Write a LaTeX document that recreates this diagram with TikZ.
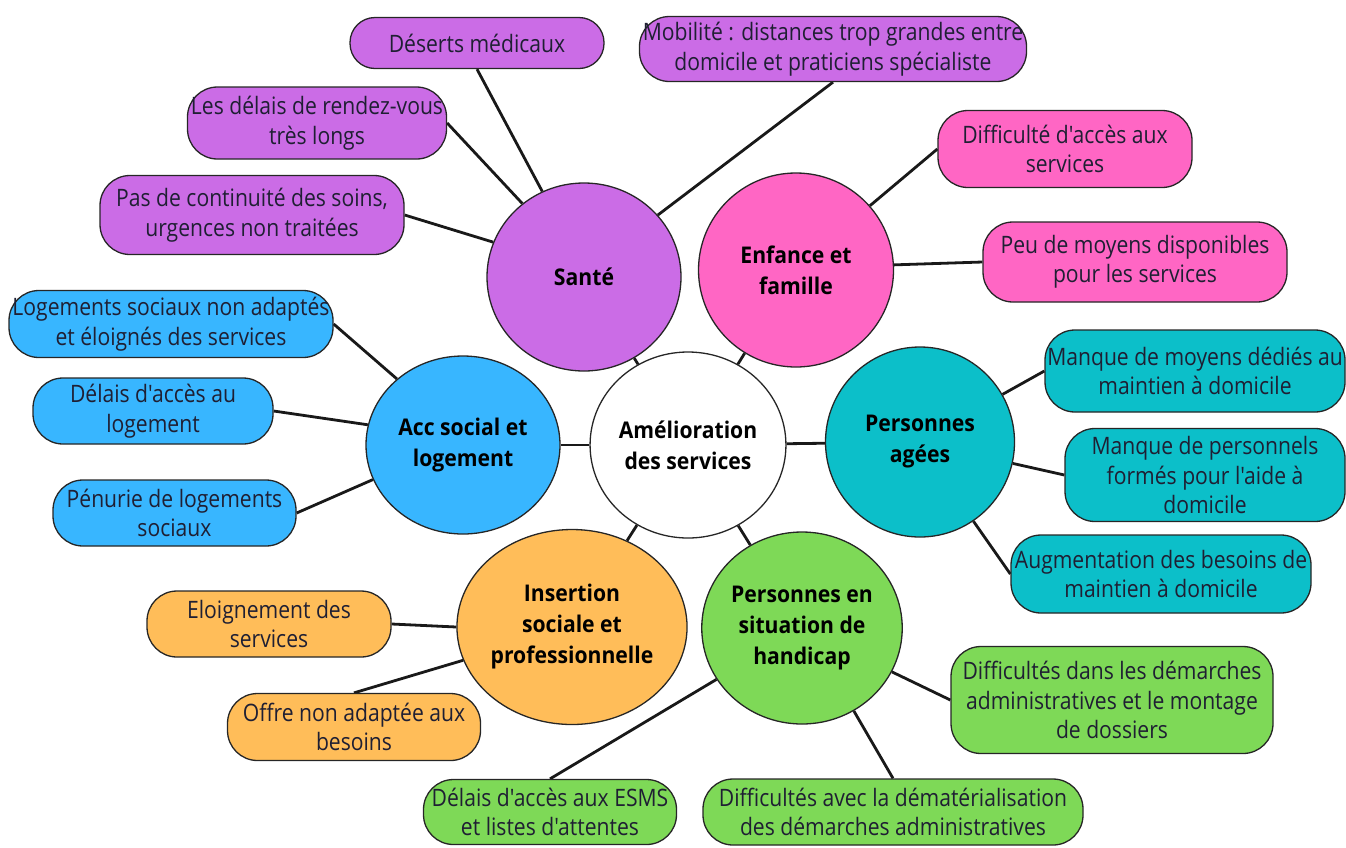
\documentclass[tikz,border=0pt]{standalone}
\usepackage{fontspec}
\usetikzlibrary{shapes.geometric,backgrounds}
\newfontfamily\leafface{Open Sans}[FakeStretch=0.88]
\newfontfamily\hubface{Open Sans}[FakeStretch=0.92,UprightFont=* Bold]
\definecolor{cpurple}{HTML}{CB6CE6}
\definecolor{cpink}{HTML}{FF66C4}
\definecolor{cteal}{HTML}{0CBFC9}
\definecolor{cgreen}{HTML}{7ED957}
\definecolor{corange}{HTML}{FFBD59}
\definecolor{cblue}{HTML}{38B6FF}
\definecolor{ctext}{HTML}{1F1F33}
\tikzset{
  hub/.style={ellipse, draw=black!85, line width=1.3pt, align=center, inner sep=0pt,
    font=\hubface\fontsize{23}{31}\selectfont, text=black},
  leaf/.style={rounded corners=30pt, draw=black!85, line width=1.3pt, align=center, inner sep=0pt,
    font=\leafface\fontsize{24}{29.5}\selectfont, text=ctext},
  link/.style={line width=2.8pt, black!90}
}
\begin{document}
\begin{tikzpicture}[x=1pt,y=-1pt]
\useasboundingbox (0,0) rectangle (1346,847);
% hubs
\node[hub, fill=white, minimum width=188, minimum height=186] (center) at (688,445) {Amélioration\\des services};
\node[hub, fill=cpurple, minimum width=194, minimum height=188] (sante) at (584,277) {Santé};
\node[hub, fill=cpink, minimum width=195, minimum height=194] (enfance) at (796,270) {Enfance et\\famille};
\node[hub, fill=cteal, minimum width=189, minimum height=190] (agees) at (920,442) {Personnes\\agées};
\node[hub, fill=cgreen, minimum width=198, minimum height=192] (handicap) at (802,628) {Personnes en\\situation de\\handicap};
\node[hub, fill=corange, minimum width=199, minimum height=195] (insertion) at (572,627) {Insertion\\sociale et\\professionnelle};
\node[hub, fill=cblue, minimum width=194, minimum height=178] (acc) at (463,445) {Acc social et\\logement};
% leaves
\node[leaf, rounded corners=25pt, fill=cpurple, minimum width=254, minimum height=51] (deserts) at (477,43) {Déserts médicaux};
\node[leaf, fill=cpurple, minimum width=259, minimum height=72] (delais) at (317,123) {Les délais de rendez-vous\\très longs};
\node[leaf, fill=cpurple, minimum width=304, minimum height=79] (continuite) at (252,215) {Pas de continuité des soins,\\urgences non traitées};
\node[leaf, fill=cpurple, minimum width=387, minimum height=65] (mobilite) at (833,49) {Mobilité : distances trop grandes entre\\domicile et praticiens spécialiste};
\node[leaf, fill=cpink, minimum width=254, minimum height=77] (diffacces) at (1065,149) {Difficulté d'accès aux\\services};
\node[leaf, fill=cpink, minimum width=304, minimum height=80] (peumoyens) at (1135,262) {Peu de moyens disponibles\\pour les services};
\node[leaf, fill=cteal, minimum width=300, minimum height=82] (manquemoyens) at (1195,371) {Manque de moyens dédiés au\\maintien à domicile};
\node[leaf, fill=cteal, minimum width=280, minimum height=93] (manquepers) at (1205,475) {Manque de personnels\\formés pour l'aide à\\domicile};
\node[leaf, fill=cteal, minimum width=300, minimum height=78] (augment) at (1161,574) {Augmentation des besoins de\\maintien à domicile};
\node[leaf, fill=cgreen, minimum width=322, minimum height=107] (diffdem) at (1112,700) {Difficultés dans les démarches\\administratives et le montage\\de dossiers};
\node[leaf, fill=cgreen, minimum width=380, minimum height=66] (demat) at (893,812) {Difficultés avec la dématérialisation\\des démarches administratives};
\node[leaf, fill=cgreen, minimum width=253, minimum height=65] (esms) at (550,812) {Délais d'accès aux ESMS\\et listes d'attentes};
\node[leaf, fill=corange, minimum width=253, minimum height=67] (offre) at (354,727) {Offre non adaptée aux\\besoins};
\node[leaf, fill=corange, minimum width=244, minimum height=66] (eloign) at (269,624) {Eloignement des\\services};
\node[leaf, fill=cblue, minimum width=243, minimum height=66] (penurie) at (174.5,513) {Pénurie de logements\\sociaux};
\node[leaf, fill=cblue, minimum width=240, minimum height=66] (delaislog) at (153,411) {Délais d'accès au\\logement};
\node[leaf, fill=cblue, minimum width=324, minimum height=67] (logements) at (171,324) {Logements sociaux non adaptés\\et éloignés des services};
% connectors
\begin{scope}[on background layer]
\draw[link] (center) -- (sante);
\draw[link] (center) -- (enfance);
\draw[link] (center) -- (agees);
\draw[link] (center) -- (handicap);
\draw[link] (center) -- (insertion);
\draw[link] (center) -- (acc);
\draw[link] (sante.116) -- (deserts.south);
\draw[link] (sante.130) -- (delais.east);
\draw[link] (sante.159) -- (continuite.east);
\draw[link] (sante.40) -- (mobilite.south);
\draw[link] (enfance.41) -- (diffacces.west);
\draw[link] (enfance.3) -- (peumoyens.west);
\draw[link] (agees.30) -- (manquemoyens.west);
\draw[link] (agees.-13) -- (manquepers.west);
\draw[link] (agees.-56) -- (augment.west);
\draw[link] (handicap.-26) -- (diffdem.west);
\draw[link] (handicap.-58) -- (demat.north);
\draw[link] (handicap.211) -- (esms.north);
\draw[link] (insertion.180) -- (eloign.east);
\draw[link] (insertion.197) -- (offre.north);
\draw[link] (acc.135) -- (logements.east);
\draw[link] (acc.168) -- (delaislog.east);
\draw[link] (acc.201) -- (penurie.east);
\end{scope}
\end{tikzpicture}
\end{document}
